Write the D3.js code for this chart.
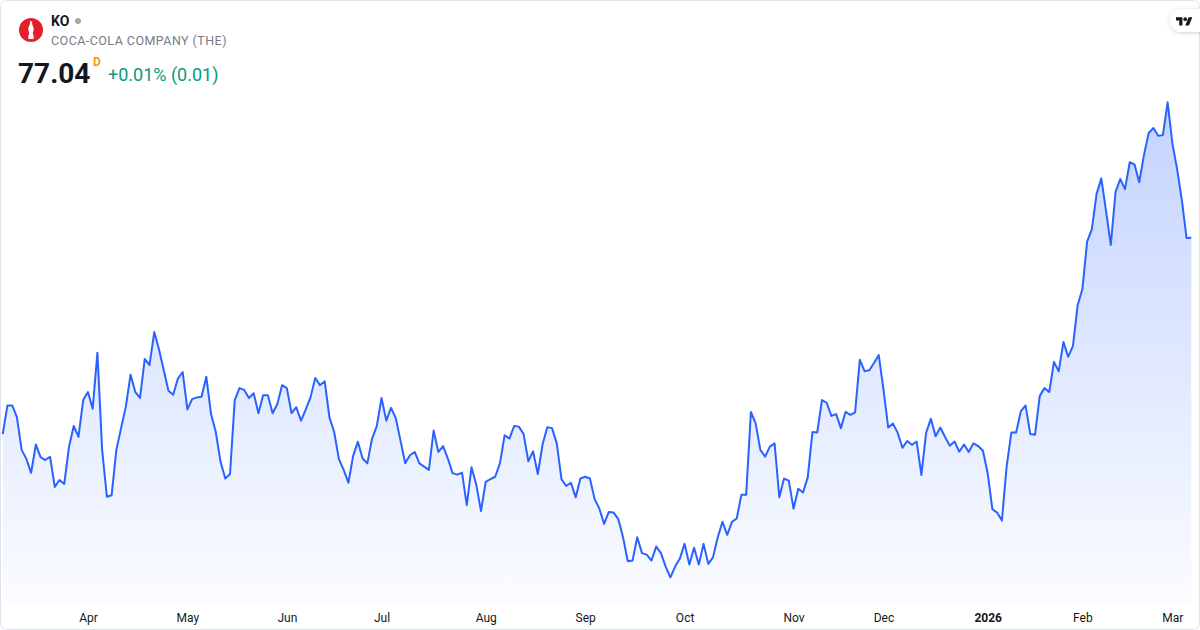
<!DOCTYPE html>
<html><head><meta charset="utf-8">
<script src="https://cdn.jsdelivr.net/npm/d3@7"></script>
<style>
html,body{margin:0;padding:0;background:#fff;}
svg{display:block;font-family:Roboto,"Noto Sans",sans-serif;}
</style></head><body>
<svg id="chart" width="1200" height="630"></svg>
<script>
const symbol = "KO";
const companyName = "COCA-COLA COMPANY (THE)";
const lastPrice = "77.04";
const intervalMark = "D";
const changeText = "+0.01% (0.01)";

// daily closes, Mar 6 2025 -> Mar 6 2026
const closes = [
70.46,71.42,71.42,71.03,69.93,69.63,69.16,70.11,69.69,69.59,
69.70,68.69,68.92,68.79,70.03,70.73,70.37,71.60,71.87,71.31,
73.19,69.93,68.36,68.41,69.93,70.66,71.38,72.45,71.87,71.67,
72.98,72.77,73.88,73.30,72.61,71.91,71.78,72.32,72.54,71.29,
71.63,71.69,71.71,72.38,71.13,70.53,69.53,68.97,69.12,71.60,
72.00,71.94,71.67,71.83,71.16,71.76,71.76,71.16,71.47,72.10,
72.00,71.16,71.36,70.91,71.29,71.69,72.34,72.10,72.23,71.02,
70.53,69.62,69.26,68.83,69.73,70.20,69.64,69.48,70.31,70.73,
71.67,70.91,71.34,71.00,70.24,69.48,69.75,69.86,69.48,69.37,
69.26,70.58,69.86,70.06,69.64,69.15,69.10,69.17,68.08,69.35,
68.77,67.88,68.86,68.95,69.03,69.48,70.42,70.31,70.73,70.71,
70.46,69.55,69.88,69.12,70.11,70.69,70.66,70.15,68.95,68.72,
68.83,68.34,68.97,69.03,68.97,68.28,67.96,67.45,67.85,67.83,
67.61,67.00,66.20,66.22,67.00,66.47,66.42,66.22,66.69,66.47,
66.02,65.66,66.02,66.29,66.78,66.09,66.65,66.09,66.78,66.11,
66.33,67.00,67.52,67.08,67.52,67.63,68.43,68.43,71.20,70.82,
69.93,69.70,70.04,70.15,68.34,68.97,68.90,67.96,68.63,68.50,
69.01,70.53,70.51,71.60,71.51,71.07,71.13,70.66,71.21,71.10,
71.19,72.95,72.57,72.60,72.84,73.11,71.95,70.68,70.81,70.50,
70.00,70.23,70.10,70.21,69.09,70.50,70.97,70.39,70.68,70.36,
70.07,70.21,69.87,70.11,69.86,70.15,70.06,69.90,69.15,67.94,
67.83,67.56,69.37,70.51,70.51,71.22,71.42,70.46,70.44,71.74,
72.00,71.87,72.88,72.56,73.55,73.05,73.41,74.78,75.32,76.91,
77.33,78.51,79.03,77.93,76.80,78.58,79.01,78.67,79.57,79.50,
78.90,79.81,80.55,80.72,80.46,80.48,81.58,80.21,79.34,78.31,
77.03,77.04
];

const tickLabels = ["Apr","May","Jun","Jul","Aug","Sep","Oct","Nov","Dec","2026","Feb","Mar"];
const tickIndex  = [18,39,60,80,102,123,144,167,186,208,228,247];
const boldTicks  = ["2026"];

const W = 1200, H = 630;
const svg = d3.select("#chart");
const defs = svg.append("defs");

const grad = defs.append("linearGradient").attr("id","areaGrad")
  .attr("gradientUnits","userSpaceOnUse").attr("x1",0).attr("x2",0).attr("y1",100).attr("y2",602);
grad.append("stop").attr("offset","0%").attr("stop-color","#2962ff").attr("stop-opacity",0.28);
grad.append("stop").attr("offset","100%").attr("stop-color","#2962ff").attr("stop-opacity",0.02);

const sh = defs.append("filter").attr("id","shadow").attr("x","-50%").attr("y","-50%").attr("width","200%").attr("height","200%");
sh.append("feDropShadow").attr("dx",0).attr("dy",1).attr("stdDeviation",2).attr("flood-color","#000").attr("flood-opacity",0.18);

// card background / border
svg.append("rect").attr("x",0.5).attr("y",0.5).attr("width",W-1).attr("height",H-1)
  .attr("rx",6).attr("fill","#fff").attr("stroke","#e0e3eb");

const x = d3.scaleLinear().domain([0, closes.length-1]).range([2.7, 1191.3]);
const y = d3.scaleLinear().domain(d3.extent(closes)).range([577.3, 102.3]);
const plotBottom = 602;

const area = d3.area().x((d,i)=>x(i)).y0(plotBottom).y1(d=>y(d));
const line = d3.line().x((d,i)=>x(i)).y(d=>y(d));

svg.append("path").datum(closes).attr("d",area).attr("fill","url(#areaGrad)");
svg.append("path").datum(closes).attr("d",line).attr("fill","none")
  .attr("stroke","#2962ff").attr("stroke-width",2).attr("stroke-linejoin","round");

// x axis
const xAxis = d3.axisBottom(x).tickValues(tickIndex)
  .tickFormat((d,i)=>tickLabels[i]).tickSize(0).tickPadding(0);
const ax = svg.append("g").attr("transform","translate(0,613)").call(xAxis);
ax.select(".domain").remove();
ax.selectAll("text").attr("font-family","Roboto,sans-serif").attr("font-size",12)
  .attr("fill","#131722").attr("dy","0.71em")
  .attr("font-weight",(d,i)=>boldTicks.includes(tickLabels[i])?"bold":"normal");

// header
const logo = svg.append("g");
logo.append("circle").attr("cx",31).attr("cy",30).attr("r",12).attr("fill","#e41e2b");
logo.append("path").attr("fill","#fff")
  .attr("d","M29.9 21.2h2.2v2.6c0 1.6 1.6 2.6 1.6 5.2c0 2-0.9 2.6-0.9 4c0 1.4 0.9 1.9 0.9 3.8v1.4c0 .5-.4.7-.8.7h-3.8c-.4 0-.8-.2-.8-.7v-1.4c0-1.9.9-2.4.9-3.8c0-1.4-.9-2-.9-4c0-2.6 1.6-3.6 1.6-5.2z");

svg.append("text").attr("x",51).attr("y",26).attr("font-size",14).attr("font-weight","bold")
  .attr("fill","#131722").text(symbol);
svg.append("circle").attr("cx",78).attr("cy",21).attr("r",3).attr("fill","#a3a6af");
svg.append("text").attr("x",51).attr("y",45).attr("font-size",12.5).attr("letter-spacing",0.45)
  .attr("fill","#787b86").text(companyName);
svg.append("text").attr("x",18).attr("y",83).attr("font-size",28).attr("font-weight","bold")
  .attr("fill","#131722").text(lastPrice);
svg.append("text").attr("x",93).attr("y",66).attr("font-size",12).attr("font-weight","bold")
  .attr("fill","#ff9800").text(intervalMark);
svg.append("text").attr("x",108).attr("y",81).attr("font-size",18)
  .attr("fill","#089981").text(changeText);

// TV badge
const tv = svg.append("g");
tv.append("rect").attr("x",1170).attr("y",9).attr("width",44).attr("height",23).attr("rx",11.5)
  .attr("fill","#fff").attr("filter","url(#shadow)");
const tvg = tv.append("g").attr("transform","translate(1176,15.5) scale(0.46)");
tvg.append("path").attr("fill","#131722").attr("d","M14 22H7V11H0V4h14v18zM28 22h-8l7.5-18h8L28 22z");
tvg.append("circle").attr("cx",20).attr("cy",8).attr("r",4).attr("fill","#131722");
</script>
</body></html>
